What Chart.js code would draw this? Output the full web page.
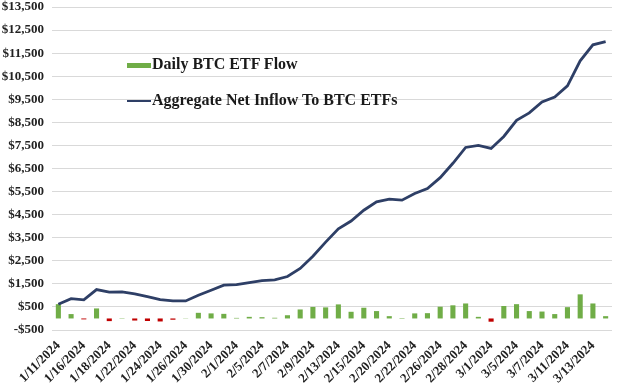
<!DOCTYPE html>
<html lang="en">
<head>
    <meta charset="UTF-8">
    <title>BTC ETF Flows</title>
    <script src="https://cdn.jsdelivr.net/npm/chart.js"></script>
    <style>
        body { margin: 0; background: #fff; }
        #wrap { position: relative; width: 620px; height: 384px; }
        .legend { position: absolute; left: 127px; font: bold 16px "Liberation Serif", serif; color: #1a1a1a; white-space: nowrap; }
        .legend span { display: inline-block; width: 24px; vertical-align: middle; margin-right: 1px; }
    </style>
</head>
<body>
<div id="wrap">
    <canvas id="chart" width="620" height="384"></canvas>
    <div class="legend" style="top: 55px;"><span style="height: 5px; background: #70ad47;"></span>Daily BTC ETF Flow</div>
    <div class="legend" style="top: 91px;"><span style="height: 2px; background: #2e3f66;"></span>Aggregate Net Inflow To BTC ETFs</div>
</div>

<script>
    const dates = ['1/11/2024', '1/12/2024', '1/16/2024', '1/17/2024', '1/18/2024', '1/19/2024',
        '1/22/2024', '1/23/2024', '1/24/2024', '1/25/2024', '1/26/2024', '1/29/2024', '1/30/2024',
        '1/31/2024', '2/1/2024', '2/2/2024', '2/5/2024', '2/6/2024', '2/7/2024', '2/8/2024',
        '2/9/2024', '2/12/2024', '2/13/2024', '2/14/2024', '2/15/2024', '2/16/2024', '2/20/2024',
        '2/21/2024', '2/22/2024', '2/23/2024', '2/26/2024', '2/27/2024', '2/28/2024', '2/29/2024',
        '3/1/2024', '3/4/2024', '3/5/2024', '3/6/2024', '3/7/2024', '3/8/2024', '3/11/2024',
        '3/12/2024', '3/13/2024', '3/14/2024'];

    // daily net flow, $M
    const dailyFlow = [620, 190, -40, 435, -115, 15, -90, -110, -130, -55, 10, 245, 220, 200,
        25, 70, 55, 30, 140, 390, 500, 480, 610, 290, 465, 320, 100, 20, 220, 230,
        510, 570, 650, 70, -140, 540, 620, 320, 300, 190, 490, 1045, 650, 100];

    // running total, $M
    const aggregate = [617, 860, 804, 1252, 1139, 1152, 1065, 948, 817, 760, 760, 1009, 1226,
        1443, 1470, 1557, 1643, 1674, 1817, 2165, 2700, 3308, 3889, 4225, 4692, 5055, 5172,
        5128, 5417, 5635, 6103, 6727, 7413, 7500, 7370, 7890, 8590, 8910, 9380, 9600, 10080,
        11170, 11860, 12000];

    const tickFont = { family: 'Liberation Serif', weight: 'bold', size: 13 };

    new Chart(document.getElementById('chart'), {
        data: {
            labels: dates,
            datasets: [{
                type: 'line',
                label: 'Aggregate Net Inflow To BTC ETFs',
                data: aggregate,
                borderColor: '#2e3f66',
                borderWidth: 2.8,
                pointRadius: 0,
                tension: 0,
                order: 0
            }, {
                type: 'bar',
                label: 'Daily BTC ETF Flow',
                data: dailyFlow,
                backgroundColor: dailyFlow.map(v => v < 0 ? '#c00000' : '#70ad47'),
                categoryPercentage: 0.8,
                barPercentage: 0.5,
                order: 1
            }]
        },
        options: {
            responsive: false,
            animation: false,
            layout: { padding: { top: 7, right: 8, left: 0, bottom: 0 } },
            plugins: { legend: { display: false }, tooltip: { enabled: false } },
            scales: {
                x: {
                    grid: { display: false },
                    border: { display: false },
                    ticks: {
                        autoSkip: false,
                        maxRotation: 45,
                        minRotation: 45,
                        color: '#222',
                        font: tickFont,
                        padding: 0,
                        callback: (v, i) => i % 2 === 0 ? dates[i] : ''
                    },
                    afterFit: s => { s.height = 54; s.paddingLeft = 0; s.paddingRight = 0; }
                },
                y: {
                    min: -500,
                    max: 13500,
                    grid: { color: '#d9d9d9', drawTicks: false },
                    border: { display: false },
                    ticks: {
                        stepSize: 1000,
                        color: '#222',
                        font: tickFont,
                        padding: 8,
                        callback: v => (v < 0 ? '-$' : '$') + Math.abs(v).toLocaleString('en-US')
                    },
                    afterFit: s => { s.width = 52; s.paddingTop = 0; s.paddingBottom = 0; }
                }
            }
        }
    });
</script>
</body>
</html>
